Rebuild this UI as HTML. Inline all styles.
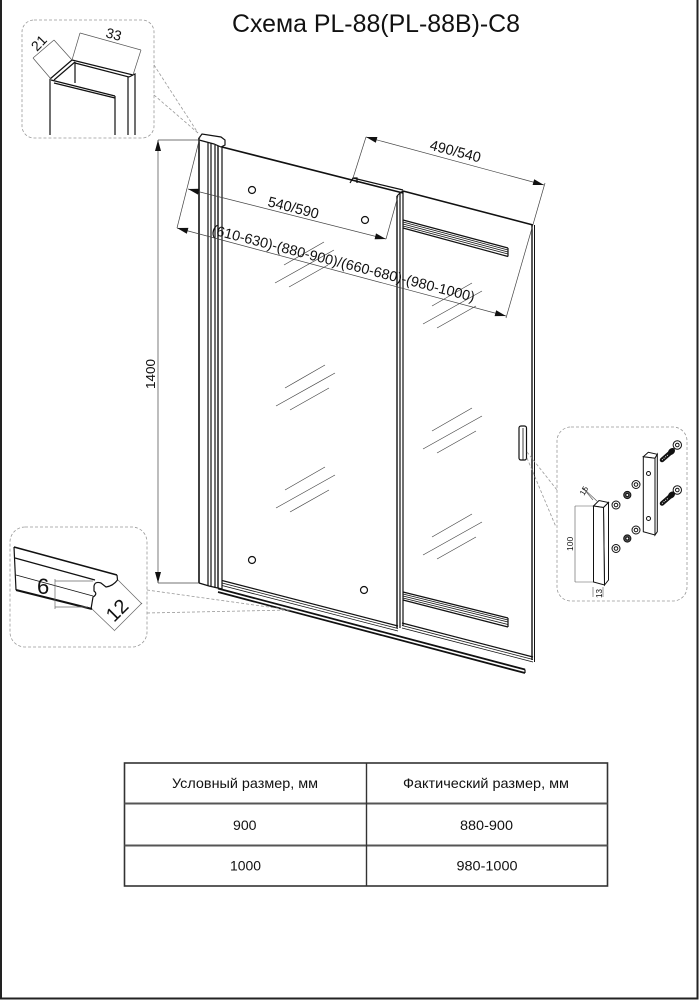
<!DOCTYPE html>
<html><head><meta charset="utf-8">
<style>
html,body{margin:0;padding:0;background:#fff;}
svg{display:block;}
text{font-family:"Liberation Sans",Arial,sans-serif;fill:#111;}
</style></head><body>
<svg width="699" height="1000" viewBox="0 0 699 1000" xmlns="http://www.w3.org/2000/svg">
<rect width="699" height="1000" fill="#fff"/>
<!-- page border -->
<path d="M1,0 V998.5 H697.5 V0" fill="none" stroke="#222" stroke-width="2"/>

<!-- title -->
<text x="232" y="32" font-size="25" textLength="288" lengthAdjust="spacingAndGlyphs">Схема PL-88(PL-88B)-C8</text>

<!-- ============ TOP-LEFT INSET ============ -->
<rect x="22" y="20" width="132" height="118" rx="12" fill="none" stroke="#999" stroke-width="0.8" stroke-dasharray="3,2"/>
<g stroke="#111" stroke-width="1.2" fill="none">
  <path d="M50,79 V135"/>
  <path d="M50,79 L72,60"/>
  <path d="M54,80 L75,62"/>
  <path d="M72,60 L133,75"/>
  <path d="M75,63 L129,77"/>
  <path d="M51,80 L115,96"/>
  <path d="M54,83 L115,98"/>
  <path d="M75,62 V83"/>
  <path d="M115,96 V135"/>
  <path d="M128,77 V135"/>
  <path d="M133,75 L135,74 V135"/>
  <path d="M129,77 L133,75"/>
</g>
<g stroke="#555" stroke-width="0.7" fill="none">
  <path d="M51,79 L33,58"/>
  <path d="M72,60 L54,40"/>
  <path d="M33,58 L54,40"/>
  <path d="M72,60 L80,33"/>
  <path d="M133,75 L141,50"/>
  <path d="M80,33 L141,50"/>
</g>
<text transform="translate(37,52) rotate(-46)" font-size="14">21</text>
<text transform="translate(105,37) rotate(15)" font-size="14">33</text>
<g stroke="#999" stroke-width="0.8" stroke-dasharray="3,2" fill="none">
  <path d="M154,65 L198,133"/>
  <path d="M154,95 L198,133"/>
</g>

<!-- ============ MAIN DRAWING ============ -->
<!-- reflections -->
<g stroke="#444" stroke-width="0.7" fill="none">
  <g transform="translate(275,283)"><path d="M9,-18 L49,-41 M0,0 L59,-33 M14,4 L53,-18"/></g>
  <g transform="translate(276,406)"><path d="M9,-18 L49,-41 M0,0 L59,-33 M14,4 L53,-18"/></g>
  <g transform="translate(276,508)"><path d="M9,-18 L49,-41 M0,0 L59,-33 M14,4 L53,-18"/></g>
  <g transform="translate(423,324)"><path d="M9,-18 L49,-41 M0,0 L59,-33 M14,4 L53,-18"/></g>
  <g transform="translate(423,449)"><path d="M9,-18 L49,-41 M0,0 L59,-33 M14,4 L53,-18"/></g>
  <g transform="translate(423,555)"><path d="M9,-18 L49,-41 M0,0 L59,-33 M14,4 L53,-18"/></g>
</g>

<g stroke="#111" fill="none" stroke-width="1.2">
  <!-- left wall profile -->
  <path d="M199,138 V583" stroke-width="1.6"/>
  <path d="M208,141 V586"/>
  <path d="M211,142 V586"/>
  <path d="M215,145 V588"/>
  <path d="M218,145 V588" stroke-width="1.4"/>
  <path d="M222,146 V589"/>
  <path d="M199,583 L209,586 L222,589"/>
  <polygon points="199,138 202,134 221,137 225,140 225,145 221,147 214,144 199,140" fill="#fff"/>

  <!-- left panel top edge -->
  <path d="M222,147 L403,193" stroke-width="1.6"/>
  <path d="M353,178 L403,190"/>
  <path d="M350,183 L353,178 L357,178 L357,183"/>
  <!-- left panel right edge -->
  <path d="M397,196 V628" stroke-width="1.4"/>
  <path d="M400,193 V628"/>
  <path d="M403,191 V626"/>
  <path d="M397,196 L400,193 L403,191"/>

  <!-- right panel -->
  <path d="M403,191 L533,225" stroke-width="1.6"/>
  <path d="M532,225 V660" stroke-width="1.4"/>
  <path d="M534.5,225 V662" stroke-width="1"/>

  <!-- upper track -->
  <path d="M403,220 L508,248"/>
  <path d="M403,222 L508,250" stroke-width="0.8"/>
  <path d="M403,224 L508,252" stroke-width="0.8"/>
  <path d="M403,226 L508,254" stroke-width="0.8"/>
  <path d="M403,228 L508,256.5"/>
  <path d="M508,248 V256.5"/>
  <!-- lower track -->
  <path d="M403,592 L508,618"/>
  <path d="M403,594 L508,620" stroke-width="0.8"/>
  <path d="M403,596 L508,622" stroke-width="0.8"/>
  <path d="M403,598 L508,624.5" stroke-width="0.8"/>
  <path d="M403,600 L508,627"/>
  <path d="M508,618 V627"/>
  <!-- right panel bottom threshold -->
  <path d="M402,623 L533,657"/>
  <path d="M402,625.5 L533,659.5" stroke-width="0.8"/>
  <path d="M402,628 L533,662" stroke-width="0.8"/>

  <!-- left panel bottom lines -->
  <path d="M222,580.5 L398,626"/>
  <path d="M222,583 L398,628.5" stroke-width="0.8"/>
  <path d="M222,585.5 L398,631" stroke-width="0.8"/>
  <!-- base rail -->
  <path d="M218,588.5 L525,669.5" stroke-width="1.8"/>
  <path d="M218,592 L525,673" stroke-width="1.8"/>
  <path d="M525,669.5 V673"/>

  <!-- handle -->
  <rect x="519" y="426" width="7.5" height="34" rx="2" fill="#fff"/>
  <path d="M523,428 V460" stroke-width="0.8"/>

  <!-- holes -->
  <circle cx="252" cy="190" r="3.5" fill="#fff"/>
  <circle cx="365" cy="220" r="3.5" fill="#fff"/>
  <circle cx="252" cy="560" r="3.5" fill="#fff"/>
  <circle cx="364" cy="590" r="3.5" fill="#fff"/>
</g>

<!-- dimension lines -->
<g stroke="#444" stroke-width="0.7" fill="none">
  <!-- 1400 -->
  <path d="M158,140 V583"/>
  <path d="M158,140 H199"/>
  <path d="M158,583 H199"/>
  <!-- extensions left slanted -->
  <path d="M200,137 L177,228"/>
  <!-- 540/590 -->
  <path d="M188,189 L386,239"/>
  <path d="M386,239 L398,196"/>
  <!-- long -->
  <path d="M177,228 L506,316"/>
  <!-- right extension -->
  <path d="M506,318 L545,183"/>
  <!-- 490/540 -->
  <path d="M366,137 L544,185"/>
  <path d="M353,178 L366,137"/>
</g>
<g fill="#111">
  <polygon points="158,140 155,151 161,151"/>
  <polygon points="158,583 155,572 161,572"/>
  <polygon points="188,189 198,194.6 199.4,188.8"/>
  <polygon points="386,239 374.6,239.2 376,233.4"/>
  <polygon points="177,228 186.8,233.7 188.4,227.9"/>
  <polygon points="506,316 494.6,316.1 496.2,310.3"/>
  <polygon points="366,137 375.8,142.8 377.4,137"/>
  <polygon points="544,185 532.6,185 534.2,179.2"/>
</g>
<text transform="translate(155,389) rotate(-90)" font-size="13" textLength="30" lengthAdjust="spacingAndGlyphs">1400</text>
<text transform="translate(267,206) rotate(14.3)" font-size="14.5" textLength="52" lengthAdjust="spacingAndGlyphs">540/590</text>
<text transform="translate(429,149.5) rotate(14.5)" font-size="14.5" textLength="52" lengthAdjust="spacingAndGlyphs">490/540</text>
<text transform="translate(211,234) rotate(14.5)" font-size="14.2" textLength="271" lengthAdjust="spacingAndGlyphs">(610-630)-(880-900)/(660-680)-(980-1000)</text>

<!-- ============ BOTTOM-LEFT INSET ============ -->
<rect x="10" y="527" width="137" height="120" rx="15" fill="none" stroke="#999" stroke-width="0.8" stroke-dasharray="3,2"/>
<g stroke="#999" stroke-width="0.8" stroke-dasharray="3,2" fill="none">
  <path d="M147,590 L290,610"/>
  <path d="M147,613 L290,610"/>
</g>
<g stroke="#111" fill="none" stroke-width="1.2">
  <path d="M14,547 L117,575" stroke-width="1.6"/>
  <path d="M15,558 L95,580"/>
  <path d="M16,575 L93,596" stroke-width="0.9"/>
  <path d="M16,590 L92,609" stroke-width="2"/>
  <path d="M14,547 L16,590"/>
  <path d="M117,575 L117.5,580 Q113,586 106,587 L101,583 Q95,581 94,586 L94,591 Q98,594 93,597 L91,609"/>
</g>
<g stroke="#666" stroke-width="0.7" fill="none">
  <path d="M55,581 H93"/>
  <path d="M55,607 H88"/>
  <path d="M55,579 V609"/>
  <path d="M118,580 L142,604"/>
  <path d="M92,609 L115,631"/>
  <path d="M142,603 L115,630"/>
</g>
<text x="37" y="594" font-size="22">6</text>
<text transform="translate(114,623) rotate(-45)" font-size="20">12</text>

<!-- ============ RIGHT INSET ============ -->
<rect x="557" y="427" width="130" height="174" rx="14" fill="none" stroke="#999" stroke-width="0.8" stroke-dasharray="3,2"/>
<g stroke="#999" stroke-width="0.8" stroke-dasharray="3,2" fill="none">
  <path d="M527,452 L557,490"/>
  <path d="M527,458 L556,527"/>
</g>
<g stroke="#111" stroke-width="1" fill="#fff">
  <!-- left bar -->
  <polygon points="593.5,506 599,500.5 608.5,502.5 603.5,507.5"/>
  <polygon points="603.5,507.5 608.5,502.5 608.5,580 604.5,585"/>
  <polygon points="593.5,506 603.5,507.5 604.5,585 593.5,582"/>
  <!-- right bar -->
  <polygon points="643.3,456.7 648.3,452.3 657.3,454.3 655,458.3"/>
  <polygon points="655,458.3 657.3,454.3 657.3,531.7 655,535"/>
  <polygon points="643.3,456.7 655,458.3 655,535 643.3,531.7"/>
  <circle cx="648.5" cy="473.5" r="2"/>
  <circle cx="648.5" cy="518.5" r="2"/>
  <!-- washers -->
  <circle cx="616" cy="505" r="4"/><circle cx="616" cy="505" r="1.8"/>
  <circle cx="616" cy="548.5" r="4"/><circle cx="616" cy="548.5" r="1.8"/>
  <circle cx="636" cy="484.5" r="4"/><circle cx="636" cy="484.5" r="1.8"/>
  <circle cx="636" cy="530" r="4"/><circle cx="636" cy="530" r="1.8"/>
  <circle cx="677.3" cy="445" r="4.2"/><circle cx="677.3" cy="445" r="1.8"/>
  <circle cx="677.3" cy="490" r="4.2"/><circle cx="677.3" cy="490" r="1.8"/>
</g>
<g stroke="#111" stroke-width="1">
  <circle cx="627.3" cy="495" r="3.6" fill="#555"/><circle cx="627.3" cy="495" r="1.5" fill="#fff"/>
  <circle cx="627.3" cy="538.5" r="3.6" fill="#555"/><circle cx="627.3" cy="538.5" r="1.5" fill="#fff"/>
</g>
<!-- bolts -->
<g>
  <path d="M662,460 L670,453" stroke="#111" stroke-width="4.5" stroke-linecap="round"/>
  <path d="M662,460 L670,453" stroke="#fff" stroke-width="1" stroke-dasharray="1,1.2"/>
  <ellipse cx="671.5" cy="451.5" rx="3" ry="4" transform="rotate(45 671.5 451.5)" fill="#111"/>
  <path d="M662,503.5 L670,496.5" stroke="#111" stroke-width="4.5" stroke-linecap="round"/>
  <path d="M662,503.5 L670,496.5" stroke="#fff" stroke-width="1" stroke-dasharray="1,1.2"/>
  <ellipse cx="671.5" cy="495" rx="3" ry="4" transform="rotate(45 671.5 495)" fill="#111"/>
</g>
<g stroke="#555" stroke-width="0.6" fill="none">
  <path d="M575,506 V582"/>
  <path d="M575,506 H593"/>
  <path d="M575,582 H593"/>
  <path d="M583,488 L598,502"/>
  <path d="M593,500 L583,488"/>
  <path d="M593,587 V597"/>
  <path d="M603,587 V597"/>
</g>
<text transform="translate(573,551) rotate(-90)" font-size="8.5">100</text>
<text transform="translate(584,496) rotate(-60)" font-size="8">15</text>
<text transform="translate(602,598) rotate(-90)" font-size="8">13</text>

<!-- ============ TABLE ============ -->
<g stroke="#333" fill="none">
  <rect x="124.5" y="763" width="483" height="123" stroke-width="1.6"/>
  <path d="M124.5,803.5 H607.5" stroke="#555" stroke-width="2"/>
  <path d="M124.5,845.5 H607.5" stroke="#555" stroke-width="2"/>
  <path d="M366.5,763 V886" stroke-width="1.4"/>
</g>
<text x="172" y="788" font-size="14" textLength="146" lengthAdjust="spacingAndGlyphs">Условный размер, мм</text>
<text x="403" y="788" font-size="14" textLength="166" lengthAdjust="spacingAndGlyphs">Фактический размер, мм</text>
<text x="233" y="830" font-size="14" textLength="23.5" lengthAdjust="spacingAndGlyphs">900</text>
<text x="460" y="830" font-size="14" textLength="53" lengthAdjust="spacingAndGlyphs">880-900</text>
<text x="230" y="870.5" font-size="14" textLength="31" lengthAdjust="spacingAndGlyphs">1000</text>
<text x="456.5" y="870.5" font-size="14" textLength="61" lengthAdjust="spacingAndGlyphs">980-1000</text>
</svg>
</body></html>
